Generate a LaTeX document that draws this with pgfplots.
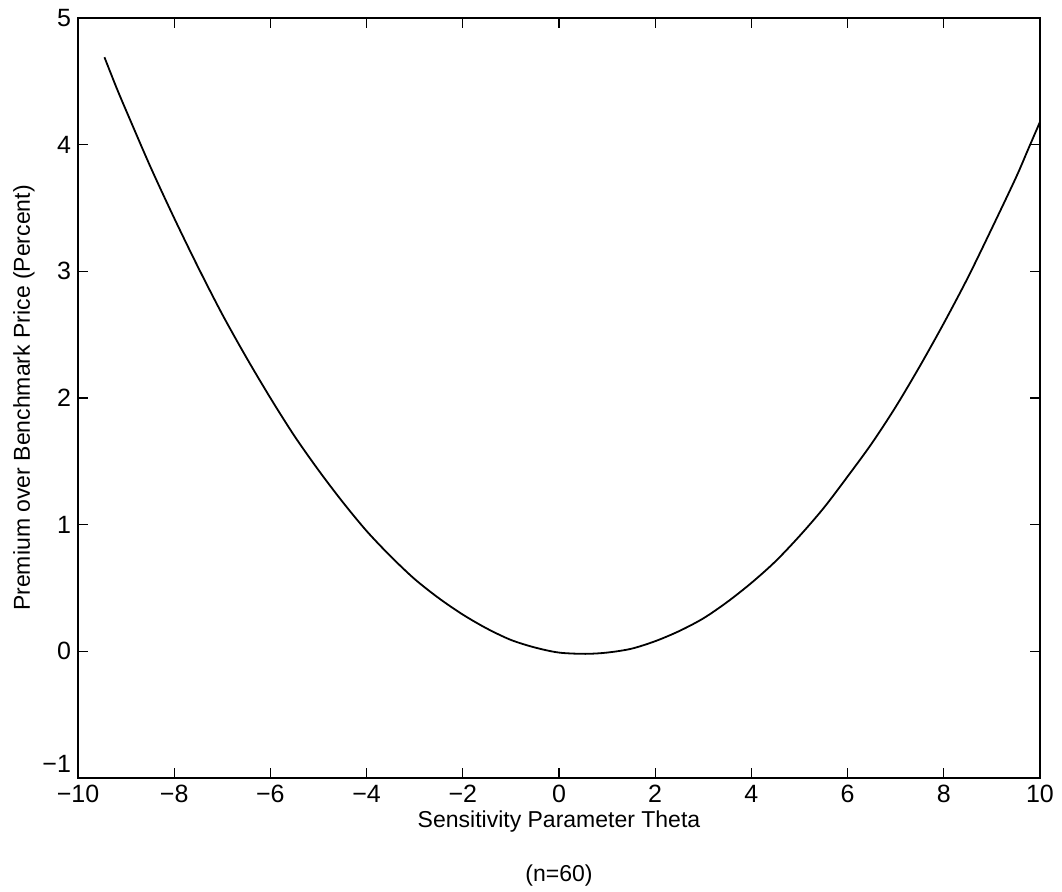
\documentclass[border=0pt]{standalone}
\usepackage{pgfplots}
\pgfplotsset{compat=1.18}
\usepackage{fontspec}
\setmainfont{Liberation Sans}
\begin{document}
\begin{tikzpicture}
\begin{axis}[
  scale only axis,
  width=481pt, height=380pt,
  xmin=-10, xmax=10, ymin=-1, ymax=5,
  xtick={-10,-8,...,10}, ytick={0,1,...,5},
  xticklabels={−10,−8,−6,−4,−2,0,2,4,6,8,10},
  yticklabels={0,1,2,3,4,5},
  extra y ticks={-1},
  extra y tick labels={−1},
  extra y tick style={yticklabel style={yshift=7pt}},
  tick align=inside, major tick length=5pt,
  tick style={black, line width=0.6pt},
  axis line style={line width=0.8pt},
  ticklabel style={font=\fontsize{12.5}{14}\selectfont},
  xlabel={Sensitivity Parameter Theta\\[14pt](n=60)},
  xlabel style={align=center, font=\fontsize{11.5}{13}\selectfont, yshift=3pt},
  ylabel={Premium over Benchmark Price (Percent)},
  ylabel style={font=\fontsize{11.5}{13}\selectfont, yshift=-3pt},
]
\addplot[black, line width=0.9pt, smooth, tension=0.5] coordinates {
(-9.45,4.69) (-9.2,4.45) (-9,4.27) (-8.5,3.83) (-8,3.42) (-7.5,3.03) (-7,2.66) (-6.5,2.32)
(-6,2.00) (-5.5,1.70) (-5,1.43) (-4.5,1.18) (-4,0.95) (-3.5,0.75) (-3,0.57)
(-2.5,0.42) (-2,0.29) (-1.5,0.18) (-1,0.09) (-0.5,0.03) (0,-0.01) (0.55,-0.02)
(1,-0.01) (1.5,0.02) (2,0.08) (2.5,0.16) (3,0.26) (3.5,0.39) (4,0.54)
(4.5,0.71) (5,0.91) (5.5,1.13) (6,1.38) (6.5,1.64) (7,1.93) (7.5,2.25)
(8,2.59) (8.5,2.95) (9,3.34) (9.5,3.74) (9.75,3.96) (10,4.18)
};
\end{axis}
\pgfresetboundingbox
\path (current axis.south west) ++(-39pt,-57pt) coordinate (bl);
\path (current axis.north east) ++(11pt,9pt) coordinate (tr);
\useasboundingbox (bl) rectangle (tr);
\end{tikzpicture}
\end{document}
